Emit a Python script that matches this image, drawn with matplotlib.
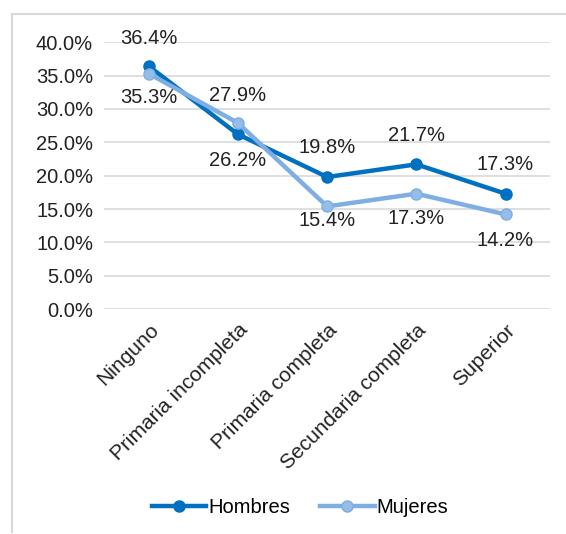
import matplotlib.pyplot as plt
from matplotlib.lines import Line2D
from matplotlib.ticker import FuncFormatter

plt.rcParams['font.family'] = ['Liberation Sans', 'DejaVu Sans']

# nivel educativo
categories = ['Ninguno', 'Primaria incompleta', 'Primaria completa',
              'Secundaria completa', 'Superior']
hombres = [36.4, 26.2, 19.8, 21.7, 17.3]
mujeres = [35.3, 27.9, 15.4, 17.3, 14.2]
# vertical label offset (points), + above, - below
off_h = [20, -19, 21, 21, 21]
off_m = [-17, 20, -10, -18, -19]

c_h = '#0070C0'
c_m = '#7EAEE2'
fs = 14.5

fig = plt.figure(figsize=(5.66, 5.34), dpi=100)
ax = fig.add_axes([0.184, 0.421, 0.788, 0.5])

x = list(range(len(categories)))
ax.plot(x, hombres, color=c_h, lw=3.2, marker='o', ms=8, zorder=3)
ax.plot(x, mujeres, color=c_m, lw=3.2, marker='o', ms=8,
        markerfacecolor='#95BDE8', zorder=4)

for i in x:
    ax.annotate('{:.1f}%'.format(hombres[i]), (i, hombres[i]),
                xytext=(0, off_h[i]), textcoords='offset points',
                ha='center', va='center', fontsize=fs, color='#222222')
    ax.annotate('{:.1f}%'.format(mujeres[i]), (i, mujeres[i]),
                xytext=(0, off_m[i]), textcoords='offset points',
                ha='center', va='center', fontsize=fs, color='#222222')

ax.set_xlim(-0.5, len(categories) - 0.5)
ax.set_ylim(0, 40)
ax.set_yticks([0, 5, 10, 15, 20, 25, 30, 35, 40])
ax.yaxis.set_major_formatter(FuncFormatter(lambda v, p: '{:.1f}%'.format(v)))
ax.grid(axis='y', color='#D9D9D9', lw=1.2)
ax.set_axisbelow(True)
for s in ax.spines.values():
    s.set_visible(False)
ax.tick_params(length=0, labelsize=fs, colors='#222222', pad=8)
ax.set_xticks(x)
ax.set_xticklabels(categories, rotation=45, ha='right', rotation_mode='anchor', fontsize=15)

handles = [Line2D([], [], color=c_h, lw=3.2, marker='o', ms=8),
           Line2D([], [], color=c_m, lw=3.2, marker='o', ms=8, markerfacecolor='#95BDE8')]
fig.legend(handles, ['Hombres', 'Mujeres'], loc='center', bbox_to_anchor=(0.53, 0.05),
           ncol=2, frameon=False, fontsize=fs, handlelength=2.7, handletextpad=0.1,
           columnspacing=1.5)

# outer frame (top and left edges visible)
fig.add_artist(Line2D([12 / 566, 1], [1 - 14 / 534, 1 - 14 / 534], color='#D9D9D9', lw=1.5,
                      transform=fig.transFigure))
fig.add_artist(Line2D([12 / 566, 12 / 566], [1 - 14 / 534, 2 / 534], color='#D9D9D9', lw=1.5,
                      transform=fig.transFigure))

plt.savefig('out.png')
